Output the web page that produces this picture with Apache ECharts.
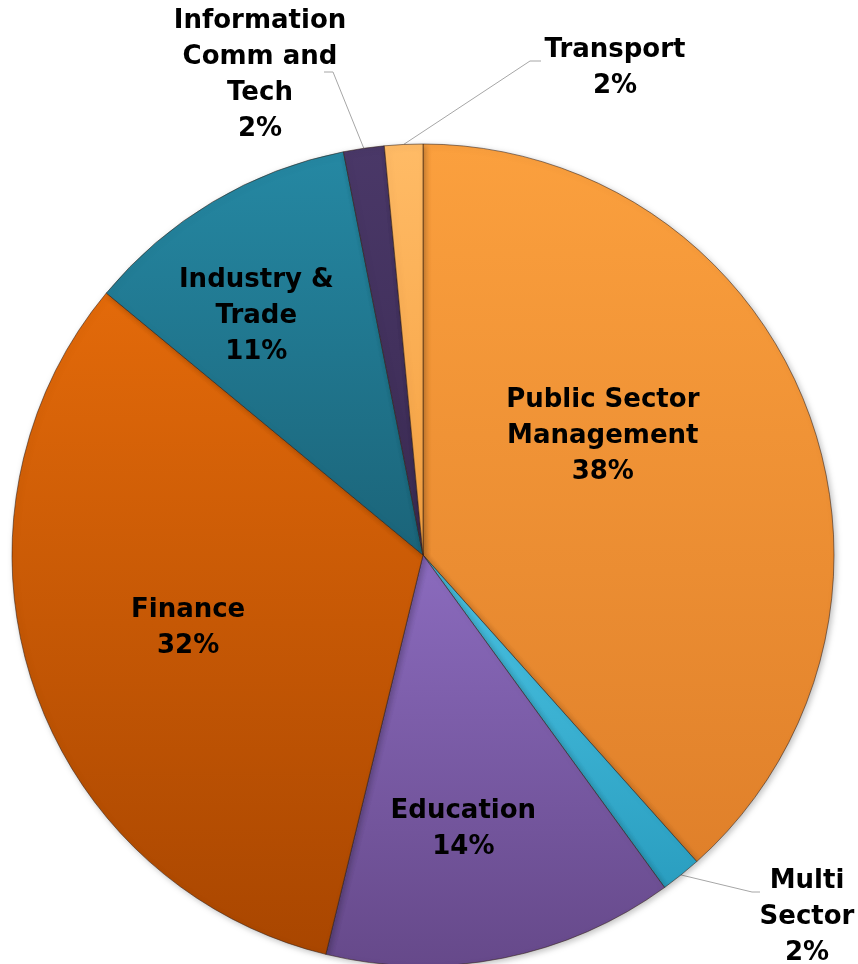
<!DOCTYPE html>
<html>
<head>
<meta charset="utf-8">
<script src="https://cdn.jsdelivr.net/npm/echarts@6/dist/echarts.min.js"></script>
<style>
  html, body { margin: 0; padding: 0; background: #fff; }
  #chart { width: 858px; height: 964px; }
</style>
</head>
<body>
<div id="chart"></div>
<script>
// sectors, clockwise from 12 o'clock
const categories = ['Public Sector\nManagement', 'Multi\nSector', 'Education', 'Finance', 'Industry &\nTrade', 'Information\nComm and\nTech', 'Transport'];
const shares = [38.4, 1.6, 13.8, 32.2, 10.9, 1.6, 1.5];

// slice colours (top / bottom of gradient)
const topColors = ['#FBA03E', '#4BC3E3', '#8B6BBE', '#E36A0A', '#2588A3', '#4A3868', '#FFBB66'];
const bottomColors = ['#E0802A', '#2A9EC0', '#66498A', '#A94600', '#1B6479', '#3A2A52', '#F5A040'];

const outsideLabel = [false, true, false, false, false, true, true];
// nudges for inside labels, fixed spots for the outside ones
const labelShift = [[-15, -44], null, [0, 70], [-37, 8], [-60, -60], null, null];
const labelSpot = {
  1: { x: 807, y: 917, elbow: [752, 892], end: [760, 892] },
  5: { x: 260, y: 75, elbow: [333, 72], end: [324, 72] },
  6: { x: 615, y: 68, elbow: [530, 61], end: [541, 61] }
};

const chart = echarts.init(document.getElementById('chart'));

const pieData = categories.map(function (name, i) {
  const item = {
    name: name,
    value: shares[i],
    itemStyle: {
      color: new echarts.graphic.LinearGradient(0, 0, 0, 1, [
        { offset: 0, color: topColors[i] },
        { offset: 1, color: bottomColors[i] }
      ])
    }
  };
  if (outsideLabel[i]) {
    item.label = { position: 'outside' };
    item.labelLine = { show: true };
  }
  return item;
});

chart.setOption({
  animation: false,
  series: [{
    type: 'pie',
    center: [423, 555],
    radius: 411,
    startAngle: 90,
    clockwise: true,
    avoidLabelOverlap: false,
    data: pieData,
    itemStyle: {
      borderColor: 'rgba(50,30,20,0.55)',
      borderWidth: 1,
      shadowColor: 'rgba(0,0,0,0.25)',
      shadowBlur: 6,
      shadowOffsetX: 2,
      shadowOffsetY: 2
    },
    label: {
      show: true,
      position: 'inside',
      color: '#000',
      fontFamily: 'DejaVu Sans',
      fontWeight: 'bold',
      fontSize: 26,
      lineHeight: 36,
      align: 'center',
      formatter: function (p) {
        return p.name + '\n' + Math.round(p.percent) + '%';
      }
    },
    labelLine: {
      show: false,
      lineStyle: { color: '#A6A6A6', width: 1 }
    },
    labelLayout: function (p) {
      const i = p.dataIndex;
      const spot = labelSpot[i];
      if (!spot) {
        return { dx: labelShift[i][0], dy: labelShift[i][1] };
      }
      const start = p.labelLinePoints ? p.labelLinePoints[0] : spot.elbow;
      return {
        x: spot.x,
        y: spot.y,
        align: 'center',
        verticalAlign: 'middle',
        labelLinePoints: [start, spot.elbow, spot.end]
      };
    }
  }]
});
</script>
</body>
</html>
